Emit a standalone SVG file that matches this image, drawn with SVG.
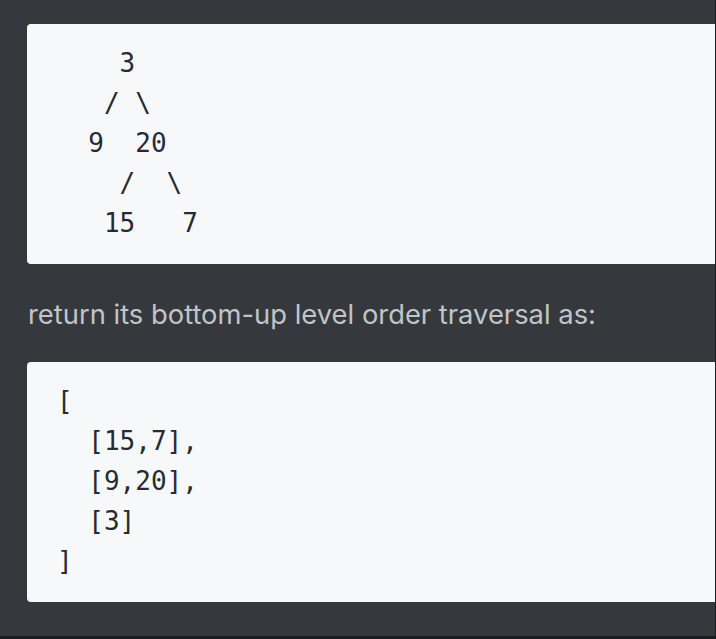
<svg xmlns="http://www.w3.org/2000/svg" width="716" height="639" viewBox="0 0 716 639">
<style>
.bg{fill:#35383d}
.block{fill:#f7f8fa}
.code{font-family:"DejaVu Sans Mono","Liberation Mono",monospace;font-size:26px;fill:#262b31;white-space:pre}
.prose{font-family:Inter,"Liberation Sans",sans-serif;font-size:27px;fill:#c2c4c7}
</style>
<rect class="bg" x="0" y="0" width="716" height="639"/>
<rect x="0" y="636" width="716" height="3" fill="#1b1c1f"/>
<g id="tree-block">
<rect class="block" x="27" y="24" width="700" height="240" rx="4"/>
<text class="code" xml:space="preserve"><tspan x="57" y="72">    3</tspan><tspan x="57" y="112">   / \</tspan><tspan x="57" y="152">  9  20</tspan><tspan x="57" y="192">    /  \</tspan><tspan x="57" y="232">   15   7</tspan></text>
</g>
<g id="prose">
<text class="prose" x="28" y="324" textLength="568" lengthAdjust="spacingAndGlyphs">return its bottom-up level order traversal as:</text>
</g>
<g id="result-block">
<rect class="block" x="27" y="362" width="700" height="240" rx="4"/>
<text class="code" xml:space="preserve"><tspan x="57" y="410">[</tspan><tspan x="57" y="450">  [15,7],</tspan><tspan x="57" y="490">  [9,20],</tspan><tspan x="57" y="530">  [3]</tspan><tspan x="57" y="570">]</tspan></text>
</g>
<rect x="715" y="0" width="1" height="639" fill="#1b1c1f"/>
</svg>
